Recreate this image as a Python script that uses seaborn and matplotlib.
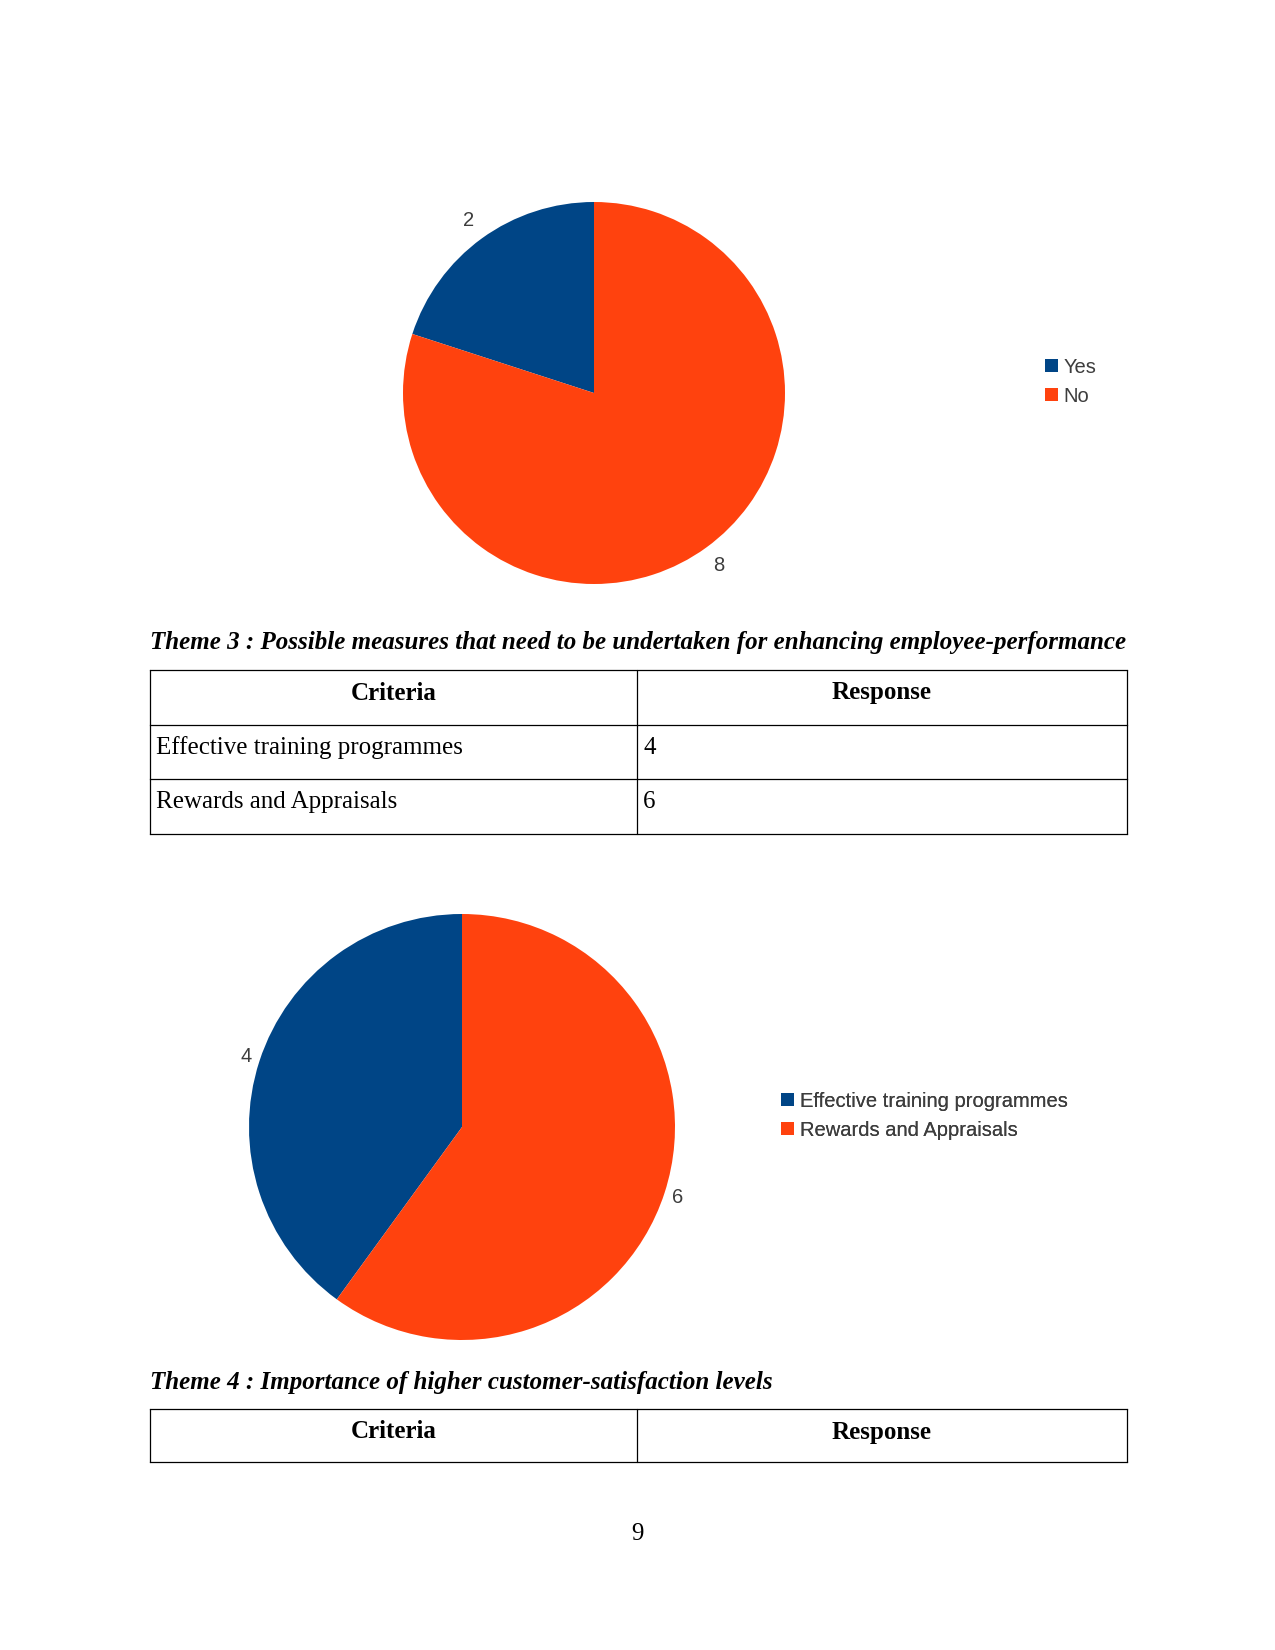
import matplotlib
matplotlib.use("Agg")
import matplotlib.pyplot as plt
import seaborn as sns

# ---------------- data ----------------
pie1_labels = ["Yes", "No"]
pie1_values = [2, 8]

theme3_caption = "Theme 3 : Possible measures that need to be undertaken for enhancing employee-performance"
theme4_caption = "Theme 4 : Importance of higher customer-satisfaction levels"
table_headers = ["Criteria", "Response"]
table1_criteria = ["Effective training programmes", "Rewards and Appraisals"]
table1_response = [4, 6]

pie2_labels = table1_criteria
pie2_values = table1_response

page_number = "9"

colors = ["#004586", "#ff420e"]
label_color = "#3d3d3d"

# ---------------- figure ----------------
sns.set_theme(style="white")
W, H, DPI = 1275, 1650, 150
fig = plt.figure(figsize=(W / DPI, H / DPI), dpi=DPI)
fig.patch.set_facecolor("white")
ax = fig.add_axes([0, 0, 1, 1])

def Y(y):
    return H - y

sans = ["Liberation Sans", "DejaVu Sans"]
serif = ["Liberation Serif", "DejaVu Serif"]
fs_chart = 9.7

def draw_pie(values, labels, cx, cy, r, labeldist, legend_xy):
    wedges, texts = ax.pie(values, labels=[str(v) for v in values], colors=colors,
                           startangle=90, counterclock=True, center=(cx, Y(cy)),
                           radius=r, labeldistance=labeldist,
                           wedgeprops=dict(linewidth=0),
                           textprops=dict(fontsize=fs_chart, color=label_color, family=sans))
    for t in texts:
        t.set_ha("center")
        t.set_va("center")
    leg = ax.legend(wedges, labels, loc="center left",
                    bbox_to_anchor=(legend_xy[0] / W, 1 - legend_xy[1] / H),
                    bbox_transform=fig.transFigure, frameon=False,
                    handlelength=0.62, handleheight=0.62,
                    handletextpad=0.3, labelspacing=0.5, borderpad=0,
                    borderaxespad=0, prop=dict(family=sans, size=fs_chart))
    for t in leg.get_texts():
        t.set_color(label_color)
    ax.add_artist(leg)
    return wedges

draw_pie(pie1_values, pie1_labels, 594, 393, 191, 1.115, (1045, 382))
draw_pie(pie2_values, pie2_labels, 462, 1127, 213, 1.065, (781, 1116))

# ---------------- tables ----------------
xl, xm, xr = 150, 637, 1127
lw = 0.6

def hline(y):
    ax.plot([xl, xr], [Y(y), Y(y)], color="black", lw=lw, solid_capstyle="projecting")

def vlines(y0, y1):
    for x in (xl, xm, xr):
        ax.plot([x, x], [Y(y0), Y(y1)], color="black", lw=lw)

def table(top, row_h, rows):
    n = 1 + len(rows)
    ys = [top + i * row_h for i in range(n + 1)]
    for y in ys:
        hline(y)
    vlines(ys[0], ys[-1])
    for j, h in enumerate(table_headers):
        cxh = (xl + xm) / 2 if j == 0 else (xm + xr) / 2
        ax.text(cxh, Y(top + 23), h, ha="center", va="center", fontsize=12,
                fontweight="bold", family=serif, color="black")
    for i, (c, v) in enumerate(rows):
        yc = Y(ys[i + 1] + 23)
        ax.text(xl + 6, yc, c, ha="left", va="center", fontsize=12, family=serif, color="black")
        ax.text(xm + 6, yc, str(v), ha="left", va="center", fontsize=12, family=serif, color="black")

ax.text(xl, Y(643), theme3_caption, ha="left", va="center", fontsize=12,
        fontweight="bold", fontstyle="italic", family=serif, color="black")
table(670, 54.7, list(zip(table1_criteria, table1_response)))

ax.text(xl, Y(1382), theme4_caption, ha="left", va="center", fontsize=12,
        fontweight="bold", fontstyle="italic", family=serif, color="black")
table(1409, 53, [])

ax.text(637, Y(1534), page_number, ha="center", va="center", fontsize=12,
        family=serif, color="black")

ax.set_xlim(0, W)
ax.set_ylim(0, H)
ax.set_aspect("auto")
ax.axis("off")

fig.savefig("out.png", dpi=DPI, facecolor="white")
